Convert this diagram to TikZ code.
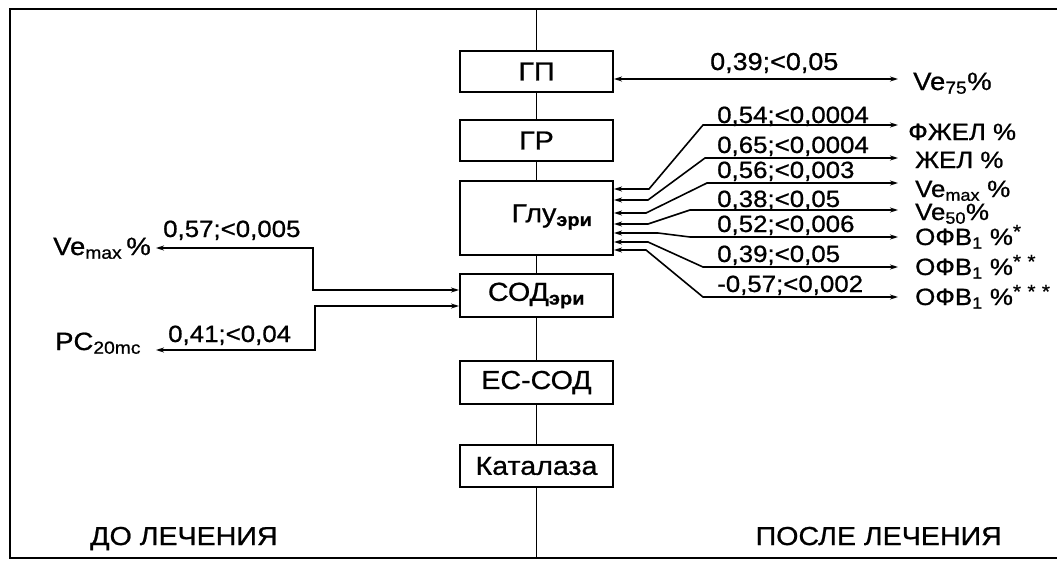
\documentclass[tikz,border=0pt]{standalone}
\usepackage{fontspec}
\setmainfont[FakeStretch=1.1,FakeBold=0.8]{Liberation Sans}
\usetikzlibrary{arrows.meta}
\newcommand{\stars}[1]{\raisebox{7pt}{\fontsize{19}{19}\selectfont #1}}
\begin{document}
\begin{tikzpicture}[x=1pt,y=-1pt,
  box/.style={draw, line width=2pt, minimum width=153pt, inner sep=0pt, fill=white, font=\fontsize{26}{26}\selectfont},
  ln/.style={line width=1.6pt},
  arr/.style={ln, {Stealth[length=8pt,width=5pt]}-{Stealth[length=8pt,width=5pt]}},
  num/.style={anchor=base west, inner sep=0pt, font=\fontsize{23.5}{23.5}\selectfont},
  rlab/.style={anchor=base west, inner sep=0pt, font=\fontsize{23.5}{23.5}\selectfont},
  llab/.style={anchor=base west, inner sep=0pt, font=\fontsize{25}{25}\selectfont},
  blab/.style={inner sep=0pt, font=\fontsize{26}{26}\selectfont},
]
\useasboundingbox (0,0) rectangle (1060,562);
% frame
\coordinate (ftr) at (1057,9);
\coordinate (ftl) at (10,9);
\coordinate (fbl) at (10,558);
\coordinate (fbr) at (1057,558);
\draw[line width=2pt] (ftr) -- (ftl) -- (fbl) -- (fbr);
% boxes
\node[box, minimum height=41pt] (gp) at (536.5,71.5) {ГП};
\node[box, minimum height=41pt] (gr) at (536.5,140.5) {ГР};
\node[box, minimum height=74pt] (glu) at (536.5,218) {};
\node[inner sep=0pt, font=\fontsize{26}{26}\selectfont] (glut) at (552,217) {Глу\textsubscript{\bfseries эри}};
\node[box, minimum height=43pt] (sod) at (536.5,295.5) {СОД\textsubscript{\bfseries эри}};
\node[box, minimum height=43pt] (es) at (536.5,382.5) {ЕС-СОД};
\node[box, minimum height=42pt] (kat) at (536.5,466) {Каталаза};
% central line
\coordinate (ctop) at (536.5,9);
\coordinate (cbot) at (536.5,558);
\draw[ln] (ctop) -- (gp) -- (gr) -- (glu) -- (sod) -- (es) -- (kat) -- (cbot);
% right side
\coordinate (rend) at (898,0);
\node[llab] (ve75) at (913,90) {Ve\textsubscript{75}\%};
\node[num, font=\fontsize{24.5}{24.5}\selectfont] (n0) at (710,70) {0,39;<0,05};
\coordinate (g0) at ([yshift=-7.5pt]gp.east);
\draw[arr] (g0) -- (g0 -| rend);

\node[rlab] (f1) at (908,140) {ФЖЕЛ \%};
\node[rlab] (f2) at (915,168) {ЖЕЛ \%};
\node[rlab] (f3) at (915,197) {Ve\textsubscript{max} \%};
\node[rlab] (f4) at (915,220) {Ve\textsubscript{50}\%};
\node[rlab] (f5) at (915,245) {ОФВ\textsubscript{1} \%\stars{*}};
\node[rlab] (f6) at (915,275) {ОФВ\textsubscript{1} \%\stars{*\,\,*}};
\node[rlab] (f7) at (915,305) {ОФВ\textsubscript{1} \%\stars{*\,\,*\,\,*}};

\node[num] (n1) at (717,123) {0,54;<0,0004};
\node[num] (n2) at (717,153) {0,65;<0,0004};
\node[num] (n3) at (717,178) {0,56;<0,003};
\node[num] (n4) at (717,207) {0,38;<0,05};
\node[num] (n5) at (717,232) {0,52;<0,006};
\node[num] (n6) at (717,262) {0,39;<0,05};
\node[num] (n7) at (717,292) {-0,57;<0,002};

\coordinate (b1) at (703,125);
\coordinate (b2) at (705,158);
\coordinate (b3) at (707,183);
\coordinate (b4) at (690,210);
\coordinate (b5) at (690,237);
\coordinate (b6) at (703,267);
\coordinate (b7) at (703,297);
\draw[arr] ([yshift=29pt]glu.east) -- ++(35,0) -- (b1) -- (b1 -| rend);
\draw[arr] ([yshift=18pt]glu.east) -- ++(34,0) -- (b2) -- (b2 -| rend);
\draw[arr] ([yshift=5pt]glu.east) -- ++(32,0) -- (b3) -- (b3 -| rend);
\draw[arr] ([yshift=-6pt]glu.east) -- ++(34,0) -- (b4) -- (b4 -| rend);
\draw[arr] ([yshift=-15pt]glu.east) -- ++(44,0) -- (b5) -- (b5 -| rend);
\draw[arr] ([yshift=-24pt]glu.east) -- ++(34,0) -- (b6) -- (b6 -| rend);
\draw[arr] ([yshift=-32pt]glu.east) -- ++(32,0) -- (b7) -- (b7 -| rend);
% left side
\coordinate (lend) at (156,0);
\node[llab] (lv) at (53,255) {Ve\textsubscript{max}\,\%};
\node[llab] (lp) at (55,350) {PC\textsubscript{20mc}};
\node[num] (m1) at (163,237) {0,57;<0,005};
\node[num] (m2) at (168,342) {0,41;<0,04};
\coordinate (la) at (313,248);
\coordinate (lb) at (315,350);
\draw[arr] ([yshift=5.5pt]sod.west) -| (la) -- (la -| lend);
\draw[arr] ([yshift=-10.5pt]sod.west) -| (lb) -- (lb -| lend);
% bottom labels
\node[blab, anchor=base west] (before) at (90,545) {ДО ЛЕЧЕНИЯ};
\node[blab, anchor=base east] (after) at (1002,545) {ПОСЛЕ ЛЕЧЕНИЯ};
\end{tikzpicture}
\end{document}
